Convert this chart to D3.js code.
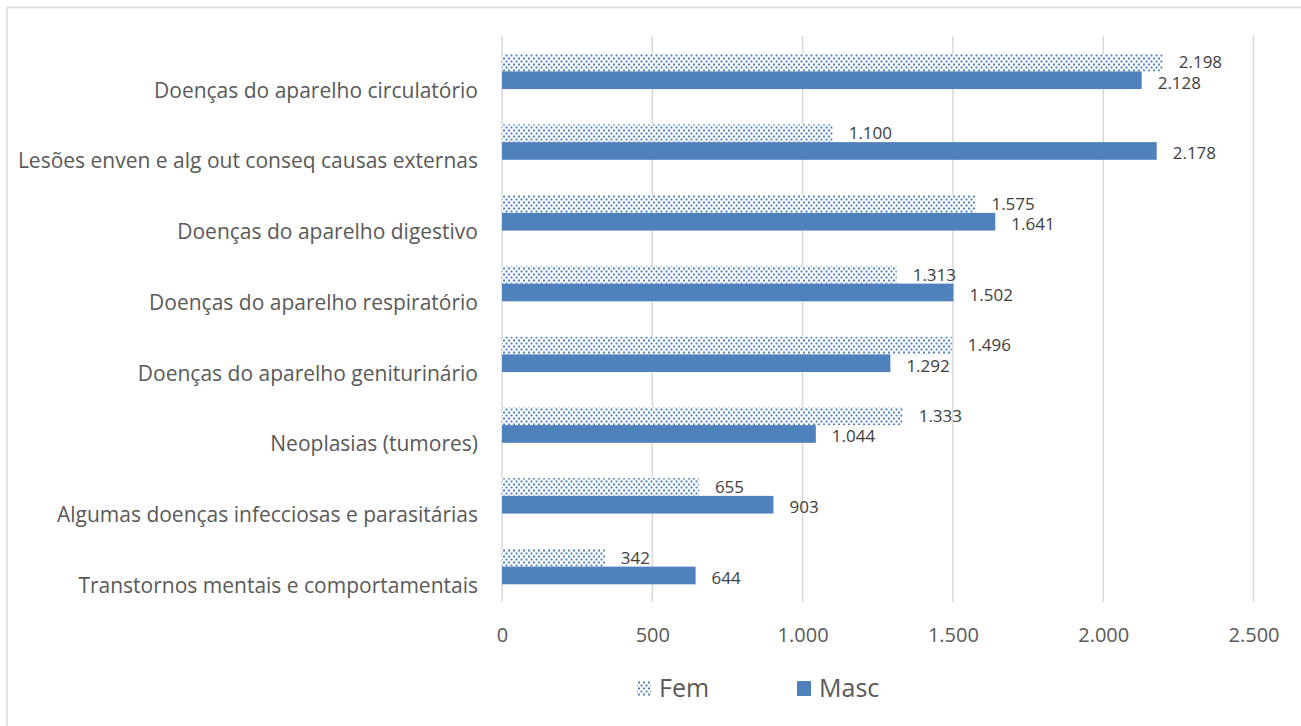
<!DOCTYPE html>
<html><head><meta charset="utf-8">
<script src="https://cdn.jsdelivr.net/npm/d3@7"></script>
<style>body{margin:0;background:#fff;}svg{display:block;}</style>
</head><body>
<svg id="c" width="1301" height="726"></svg>
<script>
const categories = ["Doenças do aparelho circulatório","Lesões enven e alg out conseq causas externas","Doenças do aparelho digestivo","Doenças do aparelho respiratório","Doenças do aparelho geniturinário","Neoplasias (tumores)","Algumas doenças infecciosas e parasitárias","Transtornos mentais e comportamentais"];
const fem = [2198,1100,1575,1313,1496,1333,655,342];
const masc = [2128,2178,1641,1502,1292,1044,903,644];
const ticks = [0,500,1000,1500,2000,2500];
const seriesNames = ["Fem","Masc"];

const svg = d3.select("#c");
const font = "'Open Sans', sans-serif";
const blue = "#4f81bd";
const fmt = v => d3.format(",")(v).replace(/,/g,".");

const defs = svg.append("defs");
const pat = defs.append("pattern").attr("id","dots").attr("patternUnits","userSpaceOnUse")
  .attr("width",5).attr("height",6);
pat.append("rect").attr("width",5).attr("height",6).attr("fill","#fff");
pat.append("rect").attr("x",0.5).attr("y",0.5).attr("width",2).attr("height",2).attr("fill",blue);
pat.append("rect").attr("x",3).attr("y",3.5).attr("width",2).attr("height",2).attr("fill",blue);

// chart border
svg.append("rect").attr("x",7).attr("y",7.5).attr("width",1310).attr("height",740)
  .attr("fill","none").attr("stroke","#d9d9d9").attr("stroke-width",1.5);

const x = d3.scaleLinear().domain([0,2500]).range([502,1253.5]);
const y = d3.scaleBand().domain(categories).range([36,602]).paddingInner(0.5).paddingOuter(0.25);
const bh = y.bandwidth()/2;

// gridlines
svg.append("g").selectAll("line").data(ticks).join("line")
  .attr("x1",d=>x(d)).attr("x2",d=>x(d)).attr("y1",36).attr("y2",602)
  .attr("stroke","#d9d9d9").attr("stroke-width",1.5);

// x axis labels
const xAxis = d3.axisBottom(x).tickValues(ticks).tickFormat(fmt).tickSize(0);
const gx = svg.append("g").attr("transform","translate(0,635)").call(xAxis);
gx.select(".domain").remove();
gx.selectAll("text").attr("font-family",font).attr("font-size",20).attr("fill","#595959")
  .attr("y",0).attr("dy","0.35em");

// category labels
const yAxis = d3.axisLeft(y).tickSize(0);
const gy = svg.append("g").attr("transform","translate(478,0)").call(yAxis);
gy.select(".domain").remove();
gy.selectAll("text").attr("font-family",font).attr("font-size",21).attr("fill","#595959")
  .attr("x",0).attr("y",19).attr("dy","0.35em");

// bars
const data = categories.map((c,i)=>({c,f:fem[i],m:masc[i]}));
svg.append("g").selectAll("rect").data(data).join("rect")
  .attr("x",x(0)).attr("y",d=>y(d.c)).attr("width",d=>x(d.f)-x(0)).attr("height",bh)
  .attr("fill","url(#dots)");
svg.append("g").selectAll("rect").data(data).join("rect")
  .attr("x",x(0)).attr("y",d=>y(d.c)+bh).attr("width",d=>x(d.m)-x(0)).attr("height",bh)
  .attr("fill",blue);

// value labels
svg.append("g").selectAll("text").data(data).join("text")
  .attr("x",d=>x(d.f)+16).attr("y",d=>y(d.c)+bh/2).attr("dy","0.35em")
  .attr("font-family",font).attr("font-size",17).attr("fill","#404040").text(d=>fmt(d.f));
svg.append("g").selectAll("text").data(data).join("text")
  .attr("x",d=>x(d.m)+16).attr("y",d=>y(d.c)+bh*1.5+2.5).attr("dy","0.35em")
  .attr("font-family",font).attr("font-size",17).attr("fill","#404040").text(d=>fmt(d.m));

// legend
const lg = svg.append("g");
const lx = [637,797];
seriesNames.forEach((s,i)=>{
  lg.append("rect").attr("x",lx[i]).attr("y",681).attr("width",14).attr("height",15)
    .attr("fill", i===0 ? "url(#dots)" : blue);
  lg.append("text").attr("x",lx[i]+22).attr("y",688).attr("dy","0.35em")
    .attr("font-family",font).attr("font-size",25).attr("fill","#595959").text(s);
});
</script>
</body></html>
